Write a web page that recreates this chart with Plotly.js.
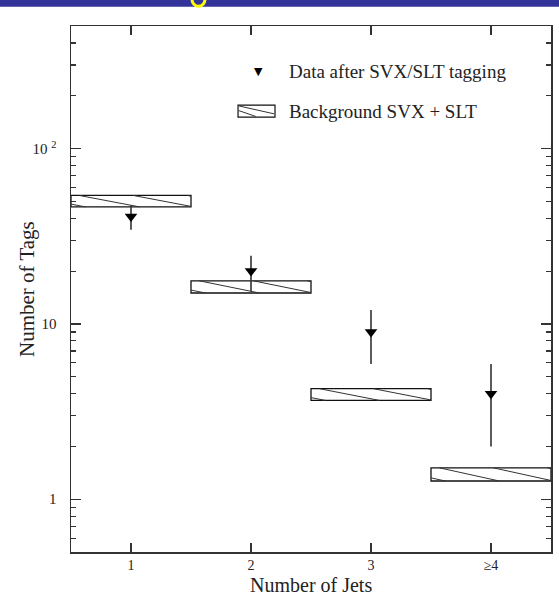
<!DOCTYPE html>
<html>
<head>
<meta charset="utf-8">
<script src="https://cdn.plot.ly/plotly-3.0.1.min.js"></script>
<style>html,body{margin:0;padding:0;background:#fff;}#chart{width:559px;height:597px;}</style>
</head>
<body>
<div id="chart"></div>
<script>
// ---- data ----
var jets = [1, 2, 3, 4];
var jetLabels = ["1", "2", "3", "\u22654"];
var dataTags = [41, 20, 9, 4];
var dataErrPlus = [6.5, 4.5, 3.0, 1.9];
var dataErrMinus = [6.6, 4.7, 3.1, 2.0];
var bkgLow = [46.5, 15.0, 3.66, 1.27];
var bkgHigh = [54.0, 17.6, 4.27, 1.51];
var yTickVals = [1, 10, 100];
var yTickText = ["1", "10", "10 <sup>2</sup>"];

var serif = "Liberation Serif, Times New Roman, serif";
var ink = "#222";

// minor tick positions (2..9 in each decade within range)
var yMin = 0.5, yMax = 500;
var minorVals = [];
[0.1, 1, 10, 100].forEach(function (d) {
  for (var k = 2; k <= 9; k++) {
    var v = k * d;
    if (v >= yMin && v <= yMax) minorVals.push(v);
  }
});

// background boxes as bars with base
var boxTrace = {
  type: "bar",
  x: jets,
  base: bkgLow,
  y: bkgLow.map(function (v, i) { return bkgHigh[i] - v; }),
  width: 1,
  marker: { color: "rgba(255,255,255,0)", line: { color: "#111", width: 1.3 } },
  hoverinfo: "skip",
  showlegend: false
};

// hatch lines inside each box (shallow "\" lines), derived from box data
var hx = [], hy = [];
var L = 0.5, S = 0.45, phase = 0.12;
jets.forEach(function (c, i) {
  var x0 = c - 0.5, x1 = c + 0.5;
  var lt = Math.log10(bkgHigh[i]), lb = Math.log10(bkgLow[i]);
  for (var s = x0 - L + phase; s < x1; s += S) {
    var a = Math.max(s, x0), b = Math.min(s + L, x1);
    if (b <= a) continue;
    var ta = (a - s) / L, tb = (b - s) / L;
    hx.push(a, b, null);
    hy.push(Math.pow(10, lt + ta * (lb - lt)), Math.pow(10, lt + tb * (lb - lt)), null);
  }
});
var hatchTrace = {
  type: "scatter", mode: "lines", x: hx, y: hy,
  line: { color: "#333", width: 1 }, hoverinfo: "skip", showlegend: false
};

var dataTrace = {
  type: "scatter", mode: "markers",
  x: jets, y: dataTags,
  error_y: { type: "data", symmetric: false, array: dataErrPlus, arrayminus: dataErrMinus,
             color: "#333", thickness: 1.6, width: 0 },
  marker: { symbol: "triangle-down", size: 11, color: "#000" },
  showlegend: false
};

var layout = {
  width: 559, height: 597,
  margin: { l: 71, r: 8, t: 26, b: 45 },
  paper_bgcolor: "#fff", plot_bgcolor: "#fff",
  showlegend: false,
  barmode: "overlay",
  font: { family: serif, color: ink, size: 15 },
  xaxis: {
    range: [0.5, 4.5],
    tickvals: jets, ticktext: jetLabels,
    ticks: "inside", ticklen: 9, tickwidth: 1.3, tickcolor: "#333",
    showline: true, linecolor: "#333", linewidth: 1.5, mirror: "ticks",
    showgrid: false, zeroline: false,
    tickfont: { family: serif, size: 14, color: ink }
  },
  yaxis: {
    type: "log",
    range: [Math.log10(yMin), Math.log10(yMax)],
    tickvals: yTickVals, ticktext: yTickText,
    ticks: "inside", ticklen: 10, tickwidth: 1.3, tickcolor: "#333",
    ticklabelstandoff: 10,
    minor: { tickmode: "array", tickvals: minorVals, ticks: "inside", ticklen: 5,
             tickwidth: 1.2, tickcolor: "#333", showgrid: false },
    showline: true, linecolor: "#333", linewidth: 1.5, mirror: "ticks",
    showgrid: false, zeroline: false,
    tickfont: { family: serif, size: 15, color: ink }
  },
  shapes: [
    // slide header band
    { type: "rect", xref: "paper", yref: "paper", x0: -0.3, x1: 1.3, y0: 1.0365, y1: 1.08,
      fillcolor: "#333399", line: { width: 0 }, layer: "above" },
    { type: "circle", xref: "paper", yref: "paper", x0: (192 - 71) / 480, x1: (205 - 71) / 480,
      y0: (552.2 - 6) / 526.5, y1: (552.2 + 8) / 526.5,
      line: { color: "#ffff00", width: 3 }, fillcolor: "rgba(0,0,0,0)", layer: "above" },
    // legend box symbol
    { type: "rect", xref: "paper", yref: "paper", x0: 0.348, x1: 0.425, y0: 0.8266, y1: 0.8494,
      line: { color: "#111", width: 1.2 }, fillcolor: "#fff" },
    { type: "line", xref: "paper", yref: "paper", x0: 0.350, x1: 0.423, y0: 0.8480, y1: 0.8330,
      line: { color: "#333", width: 1 } },
    { type: "line", xref: "paper", yref: "paper", x0: 0.350, x1: 0.385, y0: 0.8390, y1: 0.8280,
      line: { color: "#333", width: 1 } }
  ],
  annotations: [
    // axis titles
    { xref: "paper", yref: "paper", x: (27 - 71) / 480, y: 0.5, text: "Number of Tags", showarrow: false,
      textangle: -90, font: { family: serif, size: 21, color: ink }, xanchor: "center", yanchor: "middle" },
    { xref: "paper", yref: "paper", x: 0.5, y: (552.2 - 585.5) / 526.5, text: "Number of Jets", showarrow: false,
      font: { family: serif, size: 20, color: ink }, xanchor: "center", yanchor: "middle", borderpad: 0 },
    // legend
    { xref: "paper", yref: "paper", x: 0.3896, y: 0.9126, text: "\u25BC", showarrow: false,
      font: { family: "DejaVu Sans", size: 11, color: "#000" }, xanchor: "center", yanchor: "middle" },
    { xref: "paper", yref: "paper", x: 0.45, y: 0.9126, text: "Data after SVX/SLT tagging", showarrow: false,
      font: { family: serif, size: 19, color: ink }, xanchor: "left", yanchor: "middle" },
    { xref: "paper", yref: "paper", x: 0.45, y: 0.8379, text: "Background SVX + SLT", showarrow: false,
      font: { family: serif, size: 19, color: ink }, xanchor: "left", yanchor: "middle" }
  ]
};

Plotly.newPlot("chart", [boxTrace, hatchTrace, dataTrace], layout, { displayModeBar: false, staticPlot: true });
</script>
</body>
</html>
